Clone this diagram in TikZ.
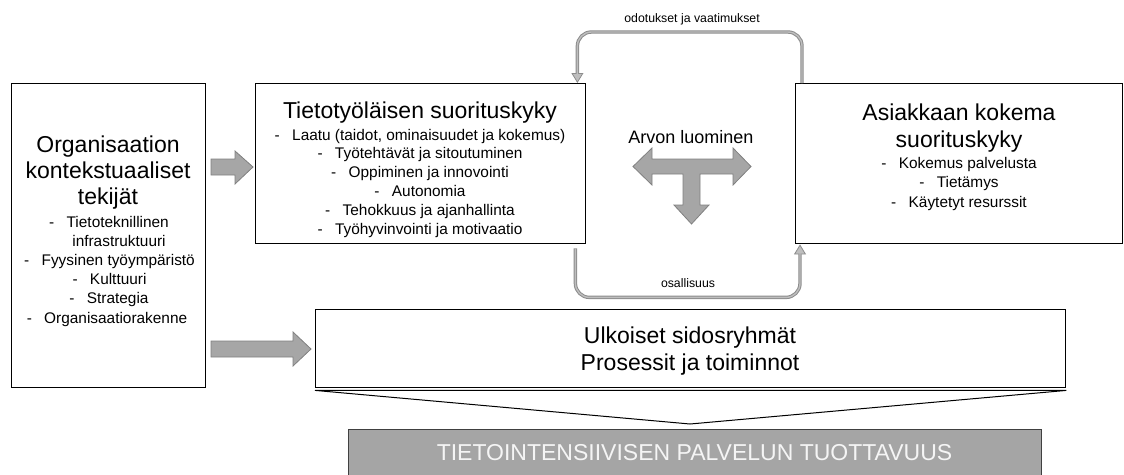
\documentclass[tikz,border=0pt]{standalone}
\usepackage{fontspec}
\setmainfont{Liberation Sans}
\usetikzlibrary{arrows.meta}

\definecolor{arrowgray}{HTML}{A6A6A6}
\definecolor{arrowedge}{HTML}{808080}
\definecolor{loopedge}{HTML}{8C8C8C}
\definecolor{loopinner}{HTML}{BEBEBE}
\definecolor{bandgray}{HTML}{A5A5A5}

% dash used in front of every list entry
\newcommand\dashitem{-\hspace{0.8em}}

\begin{document}
\begin{tikzpicture}[x=1pt,y=-1pt,
  panel/.style={draw=black, line width=1.4pt, fill=white, inner sep=0pt, anchor=north west},
  titletext/.style={font=\fontsize{23}{26}\selectfont, anchor=base, inner sep=0pt},
  itemtext/.style={font=\fontsize{15.4}{19}\selectfont, anchor=base, inner sep=0pt},
  smalllabel/.style={font=\fontsize{12.3}{14}\selectfont, anchor=base, inner sep=0pt},
  blockarrow/.style={fill=arrowgray, draw=arrowedge, line width=0.8pt, line join=miter},
  loopouter/.style={draw=loopedge, line width=3.4pt, rounded corners=14pt,
                    -{Triangle[width=12pt,length=10pt,line width=0.8pt,fill=loopinner]}},
  loopcore/.style={draw=loopinner, line width=1.4pt, rounded corners=14pt, shorten >=9pt}]

\useasboundingbox (0,0) rectangle (1124,474);

% ---------- boxes ----------
\node[panel, minimum width=194pt, minimum height=304pt] (ctx)  at (11,83)  {};
\node[panel, minimum width=330pt, minimum height=160pt] (ktp)  at (255,83) {};
\node[panel, minimum width=327pt, minimum height=160pt] (cust) at (795,83) {};
\node[panel, minimum width=750pt, minimum height=78pt]  (ext)  at (315,309) {};

% funnel below the process box
\draw[line width=1pt, fill=white, line join=miter]
  ([yshift=-2pt]ext.south west) -- ([yshift=-2pt]ext.south east) -- (690,424) -- cycle;

% productivity band
\node[panel, fill=bandgray, draw=black!75, minimum width=693pt, minimum height=60pt] (prod) at (348,429) {};
\node[titletext, text=white!96!black] (prodtxt) at (694.5,460) {TIETOINTENSIIVISEN PALVELUN TUOTTAVUUS};

% ---------- organisational context ----------
\node[titletext] (ctxa) at (108,152) {Organisaation};
\node[titletext] (ctxb) at (108,178) {kontekstuaaliset};
\node[titletext] (ctxc) at (108,204) {tekijät};
\node[itemtext] (ctx1) at (109,227)   {\dashitem Tietoteknillinen};
\node[itemtext] (ctx2) at (119,246.2) {infrastruktuuri};
\node[itemtext] (ctx3) at (109.5,265.4) {\dashitem Fyysinen työympäristö};
\node[itemtext] (ctx4) at (109.5,284.6) {\dashitem Kulttuuri};
\node[itemtext] (ctx5) at (109,303.8) {\dashitem Strategia};
\node[itemtext] (ctx6) at (107,323)   {\dashitem Organisaatiorakenne};

% ---------- knowledge worker performance ----------
\node[titletext] (ktpa) at (420,118) {Tietotyöläisen suorituskyky};
\node[itemtext] (ktp1) at (420,140)   {\dashitem Laatu (taidot, ominaisuudet ja kokemus)};
\node[itemtext] (ktp2) at (420,158.8) {\dashitem Työtehtävät ja sitoutuminen};
\node[itemtext] (ktp3) at (420,177.6) {\dashitem Oppiminen ja innovointi};
\node[itemtext] (ktp4) at (420,196.4) {\dashitem Autonomia};
\node[itemtext] (ktp5) at (420,215.2) {\dashitem Tehokkuus ja ajanhallinta};
\node[itemtext] (ktp6) at (420,234)   {\dashitem Työhyvinvointi ja motivaatio};

% ---------- customer perceived performance ----------
\node[titletext] (custa) at (959,120) {Asiakkaan kokema};
\node[titletext] (custb) at (959,147) {suorituskyky};
\node[itemtext] (cust1) at (959,168)   {\dashitem Kokemus palvelusta};
\node[itemtext] (cust2) at (959,187.5) {\dashitem Tietämys};
\node[itemtext] (cust3) at (959,207)   {\dashitem Käytetyt resurssit};

% ---------- external stakeholders ----------
\node[titletext] (exta) at (690,343) {Ulkoiset sidosryhmät};
\node[titletext] (extb) at (690,370) {Prosessit ja toiminnot};

% ---------- value creation ----------
\node[font=\fontsize{18}{21}\selectfont, anchor=base, inner sep=0pt] (value) at (691,143) {Arvon luominen};
\draw[blockarrow]
  (633,166.5) -- (652,148) -- (652,159) -- (733,159) -- (733,148) -- (751,166.5)
  -- (733,185) -- (733,174) -- (700,174) -- (700,205) -- (709,205) -- (691.5,224)
  -- (674,205) -- (683,205) -- (683,174) -- (652,174) -- (652,185) -- cycle;

% ---------- block arrows from the context box ----------
\draw[blockarrow]
  (211,159) -- (235,159) -- (235,151) -- (253,167) -- (235,184) -- (235,175) -- (211,175) -- cycle;
\draw[blockarrow]
  (211,341) -- (293,341) -- (293,332) -- (311,349) -- (293,366) -- (293,357) -- (211,357) -- cycle;

% ---------- feedback loops (outlined grey lines) ----------
\draw[loopouter] ([xshift=7pt]cust.north west) -- ++(0,-51) -| ([xshift=-9pt]ktp.north east);
\draw[loopcore]  ([xshift=7pt]cust.north west) -- ++(0,-51) -| ([xshift=-9pt]ktp.north east);
\node[smalllabel] (expect) at (692,22) {odotukset ja vaatimukset};

\draw[loopouter] ([xshift=-11pt,yshift=-4pt]ktp.south east) -- ++(0,49) -| ([xshift=5pt]cust.south west);
\draw[loopcore]  ([xshift=-11pt,yshift=-4pt]ktp.south east) -- ++(0,49) -| ([xshift=5pt]cust.south west);
\node[smalllabel] (partic) at (688,287) {osallisuus};

\end{tikzpicture}
\end{document}
